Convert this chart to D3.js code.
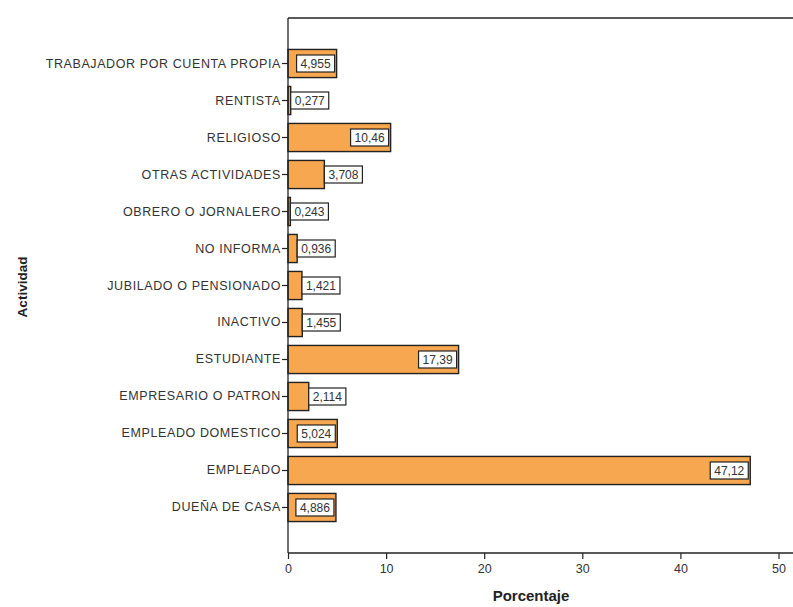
<!DOCTYPE html>
<html>
<head>
<meta charset="utf-8">
<script src="https://cdn.jsdelivr.net/npm/d3@7/dist/d3.min.js"></script>
<style>
  html, body { margin: 0; padding: 0; background: #fff; }
  svg { display: block; font-family: Arial, "Liberation Sans", sans-serif; }
</style>
</head>
<body>
<svg id="chart" width="793" height="607"></svg>
<script>
// Actividad (top to bottom as listed on the axis)
const categories = [
  "TRABAJADOR POR CUENTA PROPIA",
  "RENTISTA",
  "RELIGIOSO",
  "OTRAS ACTIVIDADES",
  "OBRERO O JORNALERO",
  "NO INFORMA",
  "JUBILADO O PENSIONADO",
  "INACTIVO",
  "ESTUDIANTE",
  "EMPRESARIO O PATRON",
  "EMPLEADO DOMESTICO",
  "EMPLEADO",
  "DUEÑA DE CASA"
];
// Porcentaje for each activity
const percentages = [4.955, 0.277, 10.46, 3.708, 0.243, 0.936, 1.421, 1.455, 17.39, 2.114, 5.024, 47.12, 4.886];
const xTicks = [0, 10, 20, 30, 40, 50];

const svg = d3.select("#chart");
const W = 793, H = 607;
const plotLeft = 288, plotTop = 18, plotBottom = 553;

const x = d3.scaleLinear().domain([0, 50]).range([plotLeft, 778.5]);
const y = d3.scaleBand()
  .domain(categories)
  .range([plotTop, plotBottom])
  .paddingInner(0.24)
  .paddingOuter(0.85);

const ink = "#222";
const fill = "#f7a74f";
const fmt = v => d3.format(".4~g")(v).replace(".", ",");

// frame: top rule
svg.append("line").attr("x1", plotLeft).attr("x2", W).attr("y1", plotTop).attr("y2", plotTop)
  .attr("stroke", ink).attr("stroke-width", 1.3);

// bars
const rows = categories.map((c, i) => ({ c, v: percentages[i] }));
const g = svg.append("g");
g.selectAll("rect.bar").data(rows).join("rect")
  .attr("class", "bar")
  .attr("x", x(0))
  .attr("y", d => y(d.c))
  .attr("width", d => x(d.v) - x(0))
  .attr("height", y.bandwidth())
  .attr("fill", fill)
  .attr("stroke", ink)
  .attr("stroke-width", 1.4);

// value boxes
const labels = g.selectAll("g.lab").data(rows).join("g").attr("class", "lab");
labels.append("text")
  .attr("font-size", 12)
  .attr("fill", "#333")
  .attr("dominant-baseline", "central")
  .text(d => fmt(d.v));
labels.each(function(d) {
  const gg = d3.select(this);
  const t = gg.select("text");
  const tw = t.node().getComputedTextLength();
  const bw = tw + 8, bh = 17;
  const end = x(d.v);
  let bx = end - bw - 2;
  if (bx < x(0) + 3) bx = Math.max(end, x(0) + 2);
  const cy = y(d.c) + y.bandwidth() / 2;
  gg.insert("rect", "text")
    .attr("x", bx).attr("y", cy - bh / 2)
    .attr("width", bw).attr("height", bh)
    .attr("fill", "#fff").attr("stroke", ink).attr("stroke-width", 1.2);
  t.attr("x", bx + 4).attr("y", cy + 0.5);
});

// y axis
const yAxis = svg.append("g")
  .attr("transform", `translate(${plotLeft},0)`)
  .call(d3.axisLeft(y).tickSize(6).tickPadding(1).tickSizeOuter(0));
yAxis.select(".domain").attr("stroke", ink).attr("stroke-width", 1.3)
  .attr("d", `M0,${plotTop}V${plotBottom}`);
yAxis.selectAll(".tick line").attr("stroke", ink).attr("stroke-width", 1.2);
yAxis.selectAll(".tick text")
  .attr("font-size", 12.5)
  .attr("letter-spacing", 0.6)
  .attr("font-family", "Arial, 'Liberation Sans', sans-serif")
  .attr("fill", "#333");

// x axis
const xAxis = svg.append("g")
  .attr("transform", `translate(0,${plotBottom})`)
  .call(d3.axisBottom(x).tickValues(xTicks).tickFormat(d3.format("d")).tickSize(6).tickPadding(5).tickSizeOuter(0));
xAxis.select(".domain").attr("stroke", ink).attr("stroke-width", 1.3)
  .attr("d", `M${plotLeft},0H${W}`);
xAxis.selectAll(".tick line").attr("stroke", ink).attr("stroke-width", 1.2);
xAxis.selectAll(".tick text")
  .attr("font-size", 12.5)
  .attr("font-family", "Arial, 'Liberation Sans', sans-serif")
  .attr("fill", "#333");

// axis titles
svg.append("text")
  .attr("x", 531).attr("y", 601)
  .attr("text-anchor", "middle")
  .attr("font-size", 15).attr("font-weight", "bold").attr("fill", "#222")
  .text("Porcentaje");
svg.append("text")
  .attr("transform", "translate(27,287) rotate(-90)")
  .attr("text-anchor", "middle")
  .attr("font-size", 13.5).attr("font-weight", "bold").attr("fill", "#222")
  .text("Actividad");
</script>
</body>
</html>
